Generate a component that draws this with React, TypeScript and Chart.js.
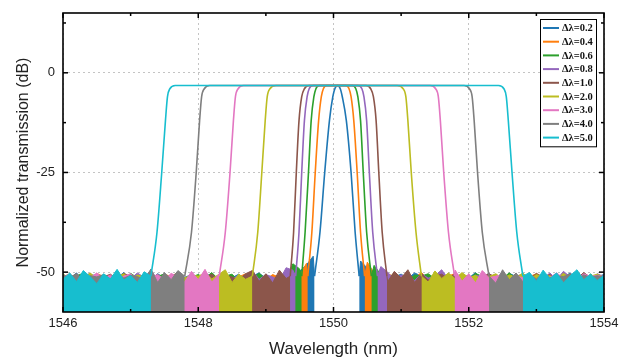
import React, { useEffect, useRef } from "react";
import { Chart, registerables } from "chart.js";

Chart.register(...registerables);

// ---------- data ----------
const seriesLabels = ["Δλ=0.2", "Δλ=0.4", "Δλ=0.6", "Δλ=0.8", "Δλ=1.0", "Δλ=2.0", "Δλ=3.0", "Δλ=4.0", "Δλ=5.0"];
const seriesColors = ["#1f77b4", "#ff7f0e", "#2ca02c", "#9467bd", "#8c564b", "#bcbd22", "#e377c2", "#7f7f7f", "#17becf"];

const xTicks = [1546, 1548, 1550, 1552, 1554];
const xMinorTicks = [1547, 1549, 1551, 1553];
const yTicks = [-50, -25, 0];
const yMinorTicks = [-37.5, -12.5, 12.5];

// passband levels (dB) along each filter edge
const bandLevels = [-51, -40, -25, -12, -6, -4, -3.2, -3.2, -4, -6, -12, -25, -40, -51];
const peakLevels = [-51, -40, -25, -12, -6, -4, -3.2, -4, -6, -12, -25, -40, -51];

// passband wavelengths (nm) per filter
const pb02 = [1549.72, 1549.80, 1549.87, 1549.94, 1549.99, 1550.02, 1550.06, 1550.10, 1550.13, 1550.19, 1550.26, 1550.32, 1550.38];
const pb04 = [1549.62, 1549.68, 1549.73, 1549.78, 1549.82, 1549.85, 1549.90, 1550.18, 1550.23, 1550.26, 1550.30, 1550.35, 1550.40, 1550.46];
const pb06 = [1549.53, 1549.58, 1549.63, 1549.67, 1549.71, 1549.74, 1549.79, 1550.28, 1550.33, 1550.36, 1550.40, 1550.44, 1550.49, 1550.56];
const pb08 = [1549.44, 1549.49, 1549.53, 1549.57, 1549.61, 1549.64, 1549.70, 1550.36, 1550.42, 1550.45, 1550.49, 1550.53, 1550.58, 1550.65];
const pb10 = [1549.36, 1549.41, 1549.45, 1549.49, 1549.53, 1549.57, 1549.64, 1550.48, 1550.55, 1550.59, 1550.63, 1550.67, 1550.72, 1550.79];
const pb20 = [1548.80, 1548.88, 1548.94, 1548.99, 1549.02, 1549.06, 1549.15, 1550.94, 1551.03, 1551.07, 1551.10, 1551.15, 1551.22, 1551.30];
const pb30 = [1548.31, 1548.40, 1548.47, 1548.52, 1548.55, 1548.59, 1548.67, 1551.43, 1551.51, 1551.55, 1551.58, 1551.63, 1551.70, 1551.79];
const pb40 = [1547.80, 1547.90, 1547.97, 1548.02, 1548.05, 1548.09, 1548.17, 1551.93, 1552.01, 1552.05, 1552.08, 1552.13, 1552.20, 1552.30];
const pb50 = [1547.30, 1547.39, 1547.46, 1547.515, 1547.545, 1547.58, 1547.66, 1552.44, 1552.52, 1552.555, 1552.585, 1552.64, 1552.71, 1552.80];

// noise floor sample wavelengths (nm)
const noiseX = [
  1546.0, 1546.1, 1546.2, 1546.3, 1546.4, 1546.5, 1546.6, 1546.7, 1546.8, 1546.9,
  1547.0, 1547.1, 1547.2, 1547.3, 1547.4, 1547.5, 1547.6, 1547.7, 1547.8, 1547.9,
  1548.0, 1548.1, 1548.2, 1548.3, 1548.4, 1548.5, 1548.6, 1548.7, 1548.8, 1548.9,
  1549.0, 1549.1, 1549.2, 1549.3, 1549.4, 1549.5, 1549.6, 1549.7, 1549.8, 1549.9,
  1550.0, 1550.1, 1550.2, 1550.3, 1550.4, 1550.5, 1550.6, 1550.7, 1550.8, 1550.9,
  1551.0, 1551.1, 1551.2, 1551.3, 1551.4, 1551.5, 1551.6, 1551.7, 1551.8, 1551.9,
  1552.0, 1552.1, 1552.2, 1552.3, 1552.4, 1552.5, 1552.6, 1552.7, 1552.8, 1552.9,
  1553.0, 1553.1, 1553.2, 1553.3, 1553.4, 1553.5, 1553.6, 1553.7, 1553.8, 1553.9,
  1554.0,
];

// noise floor levels (dB) per filter
const noise02 = [
  -50.8, -51.6, -50.2, -52.1, -51.0, -50.5, -51.9, -50.9, -51.4, -50.1,
  -52.3, -51.2, -50.7, -51.8, -50.4, -51.5, -52.0, -50.9, -51.3, -50.6,
  -51.7, -50.3, -51.1, -52.2, -50.8, -51.4, -50.5, -51.9, -51.0, -50.2,
  -51.6, -50.9, -52.4, -51.3, -50.7, -49.8, -48.2, -46.0, -51.2, -50.0,
  -50.8, -51.1, -52.0, -50.6, -47.2, -49.0, -51.7, -50.9, -52.1, -51.2,
  -50.5, -51.6, -50.2, -51.0, -52.3, -50.7, -51.3, -50.4, -51.8, -50.9,
  -51.5, -50.1, -52.0, -51.2, -50.6, -51.7, -50.3, -51.1, -52.2, -50.8,
  -51.4, -50.5, -51.9, -50.9, -51.3, -50.2, -51.6, -50.7, -52.0, -51.1,
  -50.6,
];
const noise04 = [
  -51.2, -50.4, -51.8, -50.7, -52.0, -50.3, -51.1, -51.7, -50.2, -51.5,
  -50.8, -51.9, -50.5, -51.3, -52.2, -50.6, -51.0, -50.1, -51.6, -52.1,
  -50.9, -51.4, -50.3, -51.8, -50.7, -52.3, -51.2, -50.4, -51.5, -50.8,
  -51.9, -50.6, -51.3, -50.2, -51.7, -50.9, -47.8, -49.0, -51.0, -50.5,
  -51.6, -50.3, -51.2, -52.0, -50.7, -47.5, -50.2, -51.8, -50.4, -51.1,
  -52.2, -50.8, -51.4, -50.1, -51.7, -50.5, -51.9, -51.0, -50.3, -51.6,
  -50.7, -52.1, -51.3, -50.6, -51.8, -50.2, -51.4, -52.3, -50.9, -51.1,
  -50.4, -51.7, -50.8, -52.0, -51.2, -50.5, -51.6, -50.3, -51.9, -50.7,
  -51.3,
];
const noise06 = [
  -50.5, -51.7, -51.0, -50.2, -51.5, -52.1, -50.6, -51.3, -50.9, -51.8,
  -50.3, -51.4, -52.0, -50.7, -51.1, -50.4, -51.9, -50.8, -52.2, -51.2,
  -50.6, -51.5, -50.1, -51.8, -51.0, -50.5, -52.3, -50.9, -51.4, -50.3,
  -51.7, -52.0, -50.8, -51.2, -47.9, -49.2, -51.6, -50.4, -51.1, -50.7,
  -51.9, -50.2, -51.5, -50.9, -52.1, -51.3, -48.3, -50.6, -51.8, -50.1,
  -51.4, -52.2, -50.7, -51.0, -50.4, -51.6, -50.9, -52.0, -51.2, -50.5,
  -51.8, -50.3, -51.1, -52.3, -50.8, -51.5, -50.2, -51.7, -50.6, -51.3,
  -52.0, -50.9, -51.4, -50.4, -51.9, -50.7, -51.2, -52.1, -50.5, -51.6,
  -51.0,
];
const noise08 = [
  -51.4, -50.6, -51.9, -51.1, -50.3, -51.6, -50.8, -52.2, -51.0, -50.5,
  -51.7, -50.2, -51.3, -49.6, -51.8, -50.9, -51.2, -50.4, -52.0, -50.7,
  -51.5, -50.8, -52.1, -51.0, -50.3, -51.6, -50.9, -51.3, -49.7, -51.8,
  -50.6, -51.2, -52.0, -48.9, -49.5, -50.4, -51.9, -50.7, -51.5, -50.2,
  -51.1, -52.3, -50.8, -51.4, -50.5, -51.7, -50.1, -48.6, -50.0, -51.9,
  -50.7, -51.2, -52.1, -50.4, -51.5, -50.9, -49.4, -51.8, -50.6, -51.3,
  -52.0, -50.8, -51.1, -50.3, -51.7, -49.9, -52.2, -51.0, -50.5, -51.4,
  -50.9, -51.6, -50.2, -51.9, -49.8, -51.2, -50.7, -51.5, -52.0, -50.4,
  -51.1,
];
const noise10 = [
  -50.9, -51.5, -50.4, -51.8, -52.0, -50.7, -51.2, -50.5, -51.7, -50.3,
  -51.1, -52.2, -50.8, -51.4, -50.6, -51.9, -51.0, -50.2, -51.6, -50.9,
  -52.1, -51.3, -50.5, -51.8, -50.7, -51.2, -52.0, -50.4, -49.6, -52.3,
  -50.4, -52.7, -49.5, -51.6, -50.6, -51.4, -50.9, -52.2, -51.1, -50.5,
  -51.8, -50.2, -51.3, -50.7, -51.9, -50.4, -51.5, -50.8, -52.4, -49.8,
  -51.5, -49.4, -52.6, -50.3, -52.0, -51.0, -50.5, -51.7, -50.2, -51.4,
  -50.8, -51.9, -51.1, -50.4, -51.3, -52.1, -50.7, -51.5, -50.9, -51.8,
  -50.3, -51.2, -50.6, -52.0, -51.4, -50.8, -51.7, -50.1, -51.3, -50.7,
  -51.6,
];
const noise20 = [
  -50.6, -51.3, -50.9, -51.7, -50.2, -51.5, -50.8, -52.0, -51.1, -50.4,
  -51.8, -50.7, -51.2, -50.3, -51.6, -50.9, -52.1, -50.5, -51.4, -50.8,
  -51.0, -50.2, -51.7, -50.6, -49.4, -52.6, -50.5, -51.8, -51.2, -50.7,
  -51.5, -50.3, -51.8, -50.8, -51.1, -52.0, -50.6, -51.4, -50.2, -51.7,
  -50.9, -51.3, -50.5, -51.9, -50.7, -51.2, -50.4, -51.6, -50.8, -52.1,
  -51.0, -50.6, -51.5, -50.3, -52.5, -49.7, -51.6, -50.2, -51.7, -50.1,
  -51.4, -50.8, -52.0, -51.1, -50.4, -51.6, -50.7, -51.3, -50.2, -51.9,
  -50.6, -51.2, -50.9, -51.7, -50.3, -51.5, -50.8, -52.2, -51.0, -50.5,
  -51.3,
];
const noise30 = [
  -51.1, -50.5, -51.8, -50.9, -51.4, -50.2, -51.6, -50.7, -52.1, -51.0,
  -50.4, -51.7, -50.8, -51.3, -50.6, -51.9, -50.3, -51.2, -52.4, -49.8,
  -51.9, -49.3, -52.5, -50.6, -49.9, -51.6, -50.8, -51.3, -50.5, -51.8,
  -50.9, -51.4, -50.2, -51.7, -50.6, -51.1, -52.2, -50.7, -51.5, -50.3,
  -51.9, -50.8, -51.2, -50.5, -51.6, -50.9, -51.3, -50.1, -51.8, -50.6,
  -51.4, -52.0, -50.7, -51.1, -50.4, -51.7, -50.9, -51.3, -49.5, -52.3,
  -50.4, -52.7, -49.6, -51.4, -51.0, -50.6, -52.1, -50.9, -51.4, -50.5,
  -51.8, -50.7, -51.3, -50.2, -51.5, -50.9, -51.9, -50.4, -51.1, -50.8,
  -51.2,
];
const noise40 = [
  -50.7, -51.3, -50.4, -51.9, -50.9, -51.2, -50.6, -51.7, -50.3, -51.5,
  -50.8, -51.1, -52.0, -49.2, -52.6, -50.1, -51.9, -49.6, -51.2, -50.9,
  -51.6, -50.4, -51.3, -50.8, -51.9, -50.6, -51.1, -50.3, -51.7, -50.9,
  -51.4, -50.5, -52.1, -50.8, -51.2, -50.6, -51.5, -50.2, -51.8, -50.7,
  -51.3, -50.9, -51.6, -50.4, -51.0, -52.0, -50.7, -51.4, -50.5, -51.9,
  -50.8, -51.2, -50.3, -51.7, -50.6, -51.1, -50.9, -51.5, -50.2, -51.8,
  -50.7, -51.3, -50.5, -51.0, -52.8, -49.4, -51.9, -50.2, -52.4, -50.6,
  -51.7, -50.3, -51.4, -50.9, -51.1, -50.5, -51.8, -50.7, -51.3, -50.9,
  -51.2,
];
const noise50 = [
  -51.8, -50.2, -52.4, -49.6, -51.1, -52.9, -50.4, -51.7, -49.3, -52.0,
  -50.8, -52.6, -49.9, -51.5, -50.3, -52.2, -51.0, -49.7, -52.5, -50.6,
  -50.7, -51.6, -50.9, -51.2, -50.5, -51.9, -51.1, -50.6, -51.4, -50.8,
  -51.7, -50.3, -51.2, -50.9, -51.5, -50.7, -51.8, -51.0, -50.4, -51.3,
  -51.1, -50.6, -51.9, -50.8, -51.4, -50.5, -51.2, -51.7, -50.9, -51.0,
  -50.6, -51.5, -50.8, -51.3, -51.0, -50.4, -51.8, -50.7, -51.2, -51.6,
  -50.9, -51.1, -50.5, -51.7, -50.8, -51.4, -51.0, -50.6, -51.9, -50.1,
  -52.3, -49.5, -51.6, -50.2, -52.7, -50.9, -49.4, -51.9, -50.5, -52.1,
  -50.8,
];

const passbandX = [pb02, pb04, pb06, pb08, pb10, pb20, pb30, pb40, pb50];
const passbandY = [peakLevels, bandLevels, bandLevels, bandLevels, bandLevels, bandLevels, bandLevels, bandLevels, bandLevels];
const noiseY = [noise02, noise04, noise06, noise08, noise10, noise20, noise30, noise40, noise50];

// ---------- chart ----------
const FONT = '"Liberation Sans", Arial, sans-serif';

function buildDatasets() {
  const ds: any[] = [];
  const n = seriesLabels.length;
  for (let s = 0; s < n; s++) {
    const px = passbandX[s];
    const py = passbandY[s];
    const nz = noiseY[s];
    const color = seriesColors[s];
    const order = n - 1 - s;
    const leftJ = px[0];
    const rightJ = px[px.length - 1];
    const left: any[] = [];
    const right: any[] = [];
    noiseX.forEach((x, i) => {
      if (x < leftJ) left.push({ x, y: nz[i] });
      if (x > rightJ) right.push({ x, y: nz[i] });
    });
    left.push({ x: leftJ, y: py[0] });
    right.unshift({ x: rightJ, y: py[py.length - 1] });
    const noiseStyle = {
      borderColor: color,
      backgroundColor: color,
      borderWidth: 1,
      pointRadius: 0,
      fill: "start",
      tension: 0,
      order,
    };
    ds.push({ label: seriesLabels[s] + " noise L", data: left, ...noiseStyle });
    ds.push({ label: seriesLabels[s] + " noise R", data: right, ...noiseStyle });
    ds.push({
      label: seriesLabels[s],
      data: px.map((x, i) => ({ x, y: py[i] })),
      borderColor: color,
      backgroundColor: color,
      borderWidth: 1.6,
      pointRadius: 0,
      fill: false,
      cubicInterpolationMode: "monotone",
      order,
    });
  }
  return ds;
}

const framePlugin = {
  id: "frameTicks",
  afterDatasetsDraw(chart: any) {
    const { ctx, chartArea, scales } = chart;
    const { left, right, top, bottom } = chartArea;
    ctx.save();
    ctx.strokeStyle = "#000";
    ctx.lineWidth = 1.5;
    const tick = (x1: number, y1: number, x2: number, y2: number) => {
      ctx.beginPath();
      ctx.moveTo(x1, y1);
      ctx.lineTo(x2, y2);
      ctx.stroke();
    };
    xTicks.forEach((v) => {
      const x = scales.x.getPixelForValue(v);
      tick(x, bottom, x, bottom - 5);
      tick(x, top, x, top + 5);
    });
    xMinorTicks.forEach((v) => {
      const x = scales.x.getPixelForValue(v);
      tick(x, bottom, x, bottom - 3);
      tick(x, top, x, top + 3);
    });
    yTicks.forEach((v) => {
      const y = scales.y.getPixelForValue(v);
      tick(left, y, left + 5, y);
      tick(right, y, right - 5, y);
    });
    yMinorTicks.forEach((v) => {
      const y = scales.y.getPixelForValue(v);
      tick(left, y, left + 3, y);
      tick(right, y, right - 3, y);
    });
    ctx.lineWidth = 1.6;
    ctx.strokeRect(left, top, right - left, bottom - top);
    ctx.restore();
  },
};

const legendPlugin = {
  id: "insideLegend",
  afterDraw(chart: any) {
    const { ctx, chartArea } = chart;
    const boxW = 56;
    const rowH = 13.7;
    const right = chartArea.right - 8;
    const left = right - boxW;
    const top = chartArea.top + 6;
    const h = rowH * seriesLabels.length + 4;
    ctx.save();
    ctx.fillStyle = "#fff";
    ctx.fillRect(left, top, boxW, h);
    ctx.strokeStyle = "#000";
    ctx.lineWidth = 1;
    ctx.strokeRect(left + 0.5, top + 0.5, boxW, h);
    seriesLabels.forEach((lab, i) => {
      const y = top + 9 + i * rowH;
      ctx.strokeStyle = seriesColors[i];
      ctx.lineWidth = 2;
      ctx.beginPath();
      ctx.moveTo(left + 3, y);
      ctx.lineTo(left + 19, y);
      ctx.stroke();
      ctx.fillStyle = "#111";
      ctx.font = 'bold 10.5px "Liberation Serif", "Times New Roman", serif';
      ctx.textBaseline = "middle";
      ctx.textAlign = "left";
      ctx.fillText(lab, left + 22, y + 0.5);
    });
    ctx.restore();
  },
};

export default function App() {
  const ref = useRef<HTMLCanvasElement | null>(null);
  useEffect(() => {
    if (!ref.current) return;
    const chart = new Chart(ref.current, {
      type: "line",
      data: { datasets: buildDatasets() },
      options: {
        animation: false,
        responsive: false,
        devicePixelRatio: 1,
        layout: { padding: { left: 0, right: 15, top: 13, bottom: 0 } },
        plugins: {
          legend: { display: false },
          tooltip: { enabled: false },
        },
        scales: {
          x: {
            type: "linear",
            min: 1546,
            max: 1554,
            afterBuildTicks: (s: any) => {
              s.ticks = xTicks.map((v) => ({ value: v }));
            },
            afterFit: (s: any) => {
              s.height = 48;
              s.paddingLeft = 0;
              s.paddingRight = 0;
            },
            ticks: {
              callback: (v: any) => String(v),
              font: { family: FONT, size: 13 },
              color: "#222",
              padding: 4,
              maxRotation: 0,
            },
            grid: { color: "#c4c4c4", lineWidth: 1, drawTicks: false },
            border: { display: false, dash: [2, 3] },
            title: {
              display: true,
              text: "Wavelength (nm)",
              font: { family: FONT, size: 17 },
              color: "#222",
              padding: { top: 0, bottom: 0 },
            },
          },
          y: {
            type: "linear",
            min: -60,
            max: 15,
            afterBuildTicks: (s: any) => {
              s.ticks = yTicks.map((v) => ({ value: v }));
            },
            afterFit: (s: any) => {
              s.width = 63;
              s.paddingTop = 0;
              s.paddingBottom = 0;
            },
            ticks: {
              callback: (v: any) => String(v),
              font: { family: FONT, size: 13 },
              color: "#222",
              padding: 8,
            },
            grid: { color: "#c4c4c4", lineWidth: 1, drawTicks: false },
            border: { display: false, dash: [2, 3] },
            title: {
              display: true,
              text: "Normalized transmission (dB)",
              font: { family: FONT, size: 16 },
              color: "#222",
              padding: { top: 14, bottom: 0 },
            },
          },
        },
      },
      plugins: [framePlugin, legendPlugin],
    } as any);
    return () => chart.destroy();
  }, []);
  return (
    <div style={{ position: "absolute", left: 0, top: 0, width: 619, height: 360 }}>
      <canvas ref={ref} width={619} height={360} style={{ display: "block" }} />
    </div>
  );
}
